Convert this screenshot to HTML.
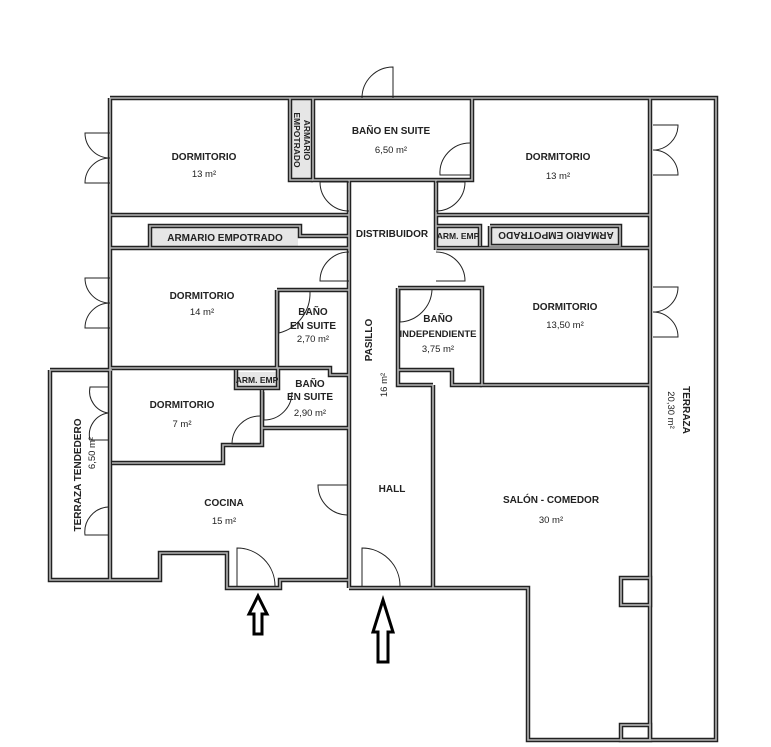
<!DOCTYPE html>
<html><head><meta charset="utf-8"><style>
html,body{margin:0;padding:0;background:#fff;}
svg{display:block;}
text{font-family:"Liberation Sans",sans-serif;font-weight:bold;font-size:10px;fill:#222;text-anchor:middle;}
.n{font-weight:normal;font-size:9.5px;}
</style></head><body>
<svg width="771" height="747" viewBox="0 0 771 747" xmlns="http://www.w3.org/2000/svg">
<defs>
<g id="w">
<polyline points="110,98 716,98 716,740 528,740 528,588 433,588"/>
<polyline points="349,588 433,588"/>
<polyline points="110,98 110,580"/>
<polyline points="50,370 112,370"/>
<polyline points="50,370 50,580 160,580 160,553 227,553 227,588 280,588 280,580 349,580"/>
<polyline points="349,180 349,588"/>
<polyline points="436,180 436,250"/>
<polyline points="433,385 433,588"/>
<polyline points="349,180 436,180"/>
<polyline points="650,98 650,740"/>
<polyline points="290,98 290,180 313,180"/>
<polyline points="313,98 313,180 349,180"/>
<polyline points="436,180 472,180 472,98"/>
<polyline points="110,215 349,215"/>
<polyline points="436,215 650,215"/>
<polyline points="110,248 349,248"/>
<polyline points="436,248 650,248"/>
<polyline points="150,248 150,226 300,226 300,236 349,236"/>
<polyline points="436,226 480,226 480,246"/>
<polyline points="490,226 620,226 620,246 490,246 490,226"/>
<polyline points="277,290 277,368 110,368"/>
<polyline points="277,290 349,290"/>
<polyline points="236,370 236,388 278,388 278,368 330,368 330,375 349,375"/>
<polyline points="262,390 262,445 223,445 223,463 112,463"/>
<polyline points="262,428 349,428"/>
<polyline points="398,288 482,288 482,385 650,385"/>
<polyline points="398,288 398,385 433,385"/>
<polyline points="398,370 452,370 452,385 482,385"/>
<rect x="621" y="578" width="29" height="27"/>
<rect x="621" y="725" width="29" height="15"/>
</g>
</defs>
<!-- closets fill -->
<rect x="291" y="100" width="21" height="79" fill="#e6e6e6"/>
<rect x="152" y="228" width="146" height="18" fill="#e6e6e6"/>
<rect x="438" y="228" width="41" height="17" fill="#e6e6e6"/>
<rect x="492" y="228" width="126" height="17" fill="#e6e6e6"/>
<rect x="238" y="372" width="38" height="15" fill="#e6e6e6"/>
<use href="#w" fill="none" stroke="#222" stroke-width="4.5"/>
<use href="#w" fill="none" stroke="#b5b5b5" stroke-width="1.6"/>
<!-- doors -->
<g fill="none" stroke="#222" stroke-width="1">
<path d="M362,98 A31,31 0 0 1 393,67 L393,98"/>
<path d="M110,133 L85,133 A25,25 0 0 0 110,158 M110,158 A25,25 0 0 0 85,183 L110,183"/>
<path d="M110,278 L85,278 A25,25 0 0 0 110,303 M110,303 A25,25 0 0 0 85,328 L110,328"/>
<path d="M653,125 L678,125 A25,25 0 0 1 653,150 M653,150 A25,25 0 0 1 678,175 L653,175"/>
<path d="M653,287 L678,287 A25,25 0 0 1 653,312 M653,312 A25,25 0 0 1 678,337 L653,337"/>
<path d="M108,387 L90,387 A22,22 0 0 0 108,413 M108,413 A22,22 0 0 0 90,440 L108,440"/>
<path d="M108,507 A25,25 0 0 0 85,535 L108,535"/>
<path d="M349,182 L320,182 A29,29 0 0 0 349,211"/>
<path d="M349,252 A29,29 0 0 0 320,281 L349,281"/>
<path d="M436,182 L465,182 A29,29 0 0 1 436,211"/>
<path d="M436,252 A29,29 0 0 1 465,281 L436,281"/>
<path d="M470,143 A30,30 0 0 0 440,175 L470,175"/>
<path d="M279,292 L279,333 A41,41 0 0 0 310,292"/>
<path d="M432,290 A34,34 0 0 1 400,322 L400,290"/>
<path d="M264,392 L264,420 A28,28 0 0 0 292,392"/>
<path d="M260,416 A28,28 0 0 0 232,444 L260,444"/>
<path d="M347,485 L318,485 A30,30 0 0 0 347,515"/>
<path d="M237,586 L237,548 A38,38 0 0 1 275,586"/>
<path d="M362,586 L362,548 A38,38 0 0 1 400,586"/>
</g>
<!-- arrows -->
<g fill="#fff" stroke="#000" stroke-width="3">
<polygon points="258,596 267,614 262,614 262,634 254,634 254,614 249,614"/>
<polygon points="383,600 393,632 388,632 388,662 378,662 378,632 373,632"/>
</g>
<!-- labels -->
<text x="204" y="160">DORMITORIO</text><text class="n" x="204" y="177">13 m²</text>
<text x="391" y="134">BAÑO EN SUITE</text><text class="n" x="391" y="153">6,50 m²</text>
<text transform="translate(304,140) rotate(90)" style="font-size:8.5px">ARMARIO</text>
<text transform="translate(294,140) rotate(90)" style="font-size:8.5px">EMPOTRADO</text>
<text x="558" y="160">DORMITORIO</text><text class="n" x="558" y="179">13 m²</text>
<text x="225" y="241">ARMARIO EMPOTRADO</text>
<text x="392" y="237">DISTRIBUIDOR</text>
<text x="458" y="239" style="font-size:8.5px">ARM. EMP</text>
<text transform="translate(556,232) rotate(180)">ARMARIO EMPOTRADO</text>
<text x="202" y="299">DORMITORIO</text><text class="n" x="202" y="315">14 m²</text>
<text x="313" y="315">BAÑO</text><text x="313" y="329">EN SUITE</text><text class="n" x="313" y="342">2,70 m²</text>
<text transform="translate(372,340) rotate(-90)">PASILLO</text>
<text class="n" transform="translate(387,385) rotate(-90)">16 m²</text>
<text x="438" y="322">BAÑO</text><text x="438" y="337" style="font-size:9.5px">INDEPENDIENTE</text><text class="n" x="438" y="352">3,75 m²</text>
<text x="565" y="310">DORMITORIO</text><text class="n" x="565" y="328">13,50 m²</text>
<text x="257" y="383" style="font-size:8.5px">ARM. EMP</text>
<text x="310" y="387">BAÑO</text><text x="310" y="400">EN SUITE</text><text class="n" x="310" y="416">2,90 m²</text>
<text x="182" y="408">DORMITORIO</text><text class="n" x="182" y="427">7 m²</text>
<text transform="translate(81,475) rotate(-90)">TERRAZA  TENDEDERO</text>
<text class="n" transform="translate(95,453) rotate(-90)">6,50 m²</text>
<text transform="translate(683,410) rotate(90)">TERRAZA</text>
<text class="n" transform="translate(668,410) rotate(90)">20,30 m²</text>
<text x="224" y="506">COCINA</text><text class="n" x="224" y="524">15 m²</text>
<text x="392" y="492">HALL</text>
<text x="551" y="503">SALÓN - COMEDOR</text><text class="n" x="551" y="523">30 m²</text>
</svg>
</body></html>
